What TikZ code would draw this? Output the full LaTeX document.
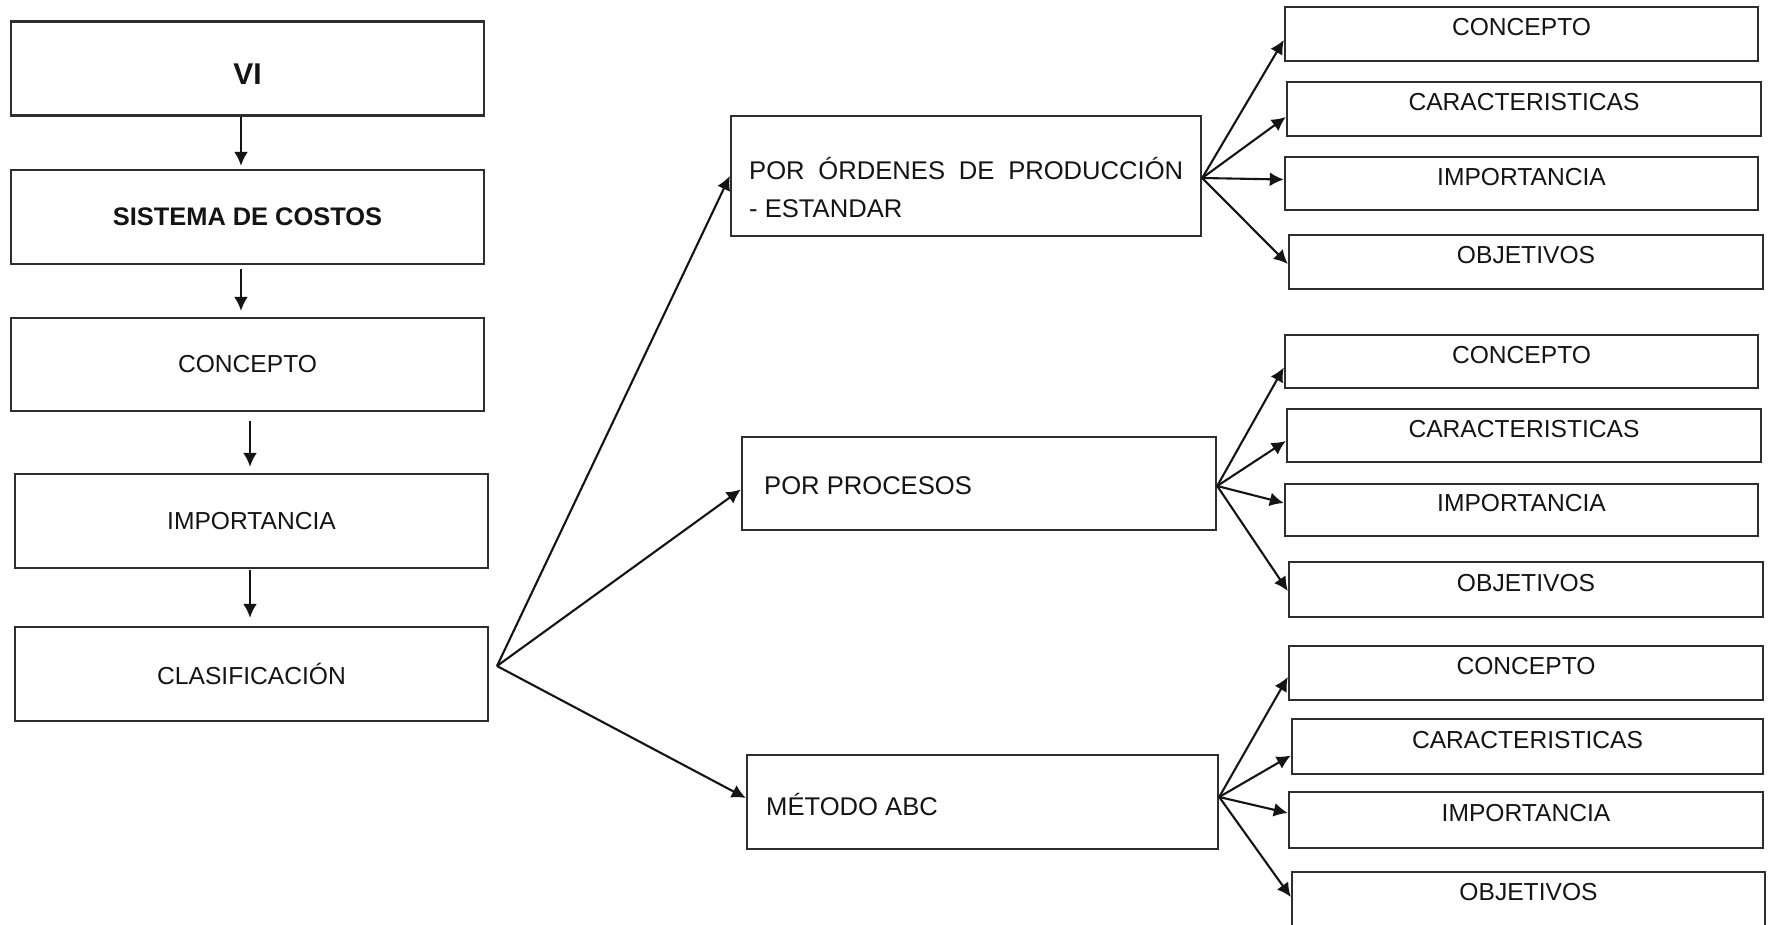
\documentclass[tikz,border=0pt]{standalone}
\usepackage{fontspec}
\setmainfont{Liberation Sans}
\usetikzlibrary{arrows.meta}
\definecolor{linec}{HTML}{2E2E2E}
\definecolor{txt}{HTML}{141414}
\begin{document}
\begin{tikzpicture}[x=1pt,y=-1pt,
  box/.style={draw=linec, line width=2.4pt, rectangle, inner sep=0pt, text=txt, font=\fontsize{24.6}{29}\selectfont},
  lbox/.style={box, minimum width=473pt, minimum height=94pt},
  mbox/.style={box, minimum height=94pt},
  rbox/.style={box, minimum width=473pt, minimum height=54pt, text height=17.5pt, text depth=14pt},
  mtext/.style={anchor=base west, inner sep=0pt, text=txt, font=\fontsize{25.6}{38}\selectfont},
  arr/.style={draw=black!92, line width=2.1pt, -{Latex[length=14pt,width=14pt]}},
]
\clip (0,0) rectangle (1772,924);
\fill[white] (0,0) rectangle (1772,924);

% left column
\node[lbox, font=\bfseries\fontsize{30}{34}\selectfont, text height=31.5pt, text depth=0pt] (vi) at (247.5,68.5) {VI};
\node[lbox, font=\bfseries\fontsize{25.4}{30}\selectfont] (sis) at (247.5,217) {SISTEMA DE COSTOS};
\node[lbox, minimum height=93pt] (con) at (247.5,364.5) {CONCEPTO};
\node[lbox] (imp) at (251.5,521) {IMPORTANCIA};
\node[lbox] (cla) at (251.5,674) {CLASIFICACIÓN};

\draw[arr, shorten >=3pt] ([xshift=-6.5pt]vi.south) -- ([xshift=-6.5pt]sis.north);
\draw[arr, shorten <=4pt, shorten >=6pt] ([xshift=-6.5pt]sis.south) -- ([xshift=-6.5pt]con.north);
\draw[arr, shorten <=9pt, shorten >=6pt] ([xshift=2.5pt]con.south) -- ([xshift=-1.5pt]imp.north);
\draw[arr, shorten <=1pt, shorten >=8pt] ([xshift=-1.5pt]imp.south) -- ([xshift=-1.5pt]cla.north);

% middle column
\node[mbox, minimum width=470pt, minimum height=120pt] (ord) at (966,176) {};
\node[mbox, minimum width=474pt, minimum height=93pt] (pro) at (979,483.5) {};
\node[mbox, minimum width=471pt] (abc) at (982.5,802) {};

\node[mtext] (ordt1) at (749,179) {\hbox to 434pt{POR\hfil ÓRDENES\hfil DE\hfil PRODUCCIÓN}};
\node[mtext] (ordt2) at (749,217) {- ESTANDAR};
\node[mtext] (prot) at (764,494.5) {POR PROCESOS};
\node[mtext] (abct) at (766,815) {MÉTODO ABC};

\coordinate (fan) at (497,666);
\draw[arr] (fan) -- (ord.west);
\draw[arr] (fan) -- ([yshift=-6pt]pro.west);
\draw[arr] (fan) -- ([yshift=4pt]abc.west);

% right column, group 1
\node[rbox] (c1) at (1521.5,34) {CONCEPTO};
\node[rbox, minimum width=474pt] (k1) at (1524,109) {CARACTERISTICAS};
\node[rbox, minimum height=53pt] (i1) at (1521.5,183.5) {IMPORTANCIA};
\node[rbox, minimum width=474pt] (o1) at (1526,262) {OBJETIVOS};

\draw[arr] ([yshift=-2pt]ord.east) -- ([yshift=-6pt]c1.west);
\draw[arr] ([yshift=-2pt]ord.east) -- ([yshift=-8pt]k1.west);
\draw[arr] ([yshift=-2pt]ord.east) -- ([yshift=4pt]i1.west);
\draw[arr] ([yshift=-2pt]ord.east) -- ([yshift=-2pt]o1.west);

% group 2
\node[rbox, minimum height=53pt] (c2) at (1521.5,361.5) {CONCEPTO};
\node[rbox, minimum width=474pt, minimum height=53pt] (k2) at (1524,435.5) {CARACTERISTICAS};
\node[rbox, minimum height=52pt] (i2) at (1521.5,510) {IMPORTANCIA};
\node[rbox, minimum width=474pt, minimum height=55pt] (o2) at (1526,589.5) {OBJETIVOS};

\draw[arr] ([yshift=-2.5pt]pro.east) -- ([yshift=-6pt]c2.west);
\draw[arr] ([yshift=-2.5pt]pro.east) -- ([yshift=-5.5pt]k2.west);
\draw[arr] ([yshift=-2.5pt]pro.east) -- ([yshift=7pt]i2.west);
\draw[arr] ([yshift=-2.5pt]pro.east) -- ([yshift=-1.5pt]o2.west);

% group 3
\node[rbox, minimum width=474pt] (c3) at (1526,673) {CONCEPTO};
\node[rbox, minimum width=471pt, minimum height=55pt] (k3) at (1527.5,746.5) {CARACTERISTICAS};
\node[rbox, minimum width=474pt, minimum height=56pt] (i3) at (1526,820) {IMPORTANCIA};
\node[rbox] (o3) at (1528.5,899) {OBJETIVOS};

\draw[arr] ([yshift=5pt]abc.east) -- ([yshift=-4pt]c3.west);
\draw[arr] ([yshift=5pt]abc.east) -- ([yshift=-9pt]k3.west);
\draw[arr] ([yshift=5pt]abc.east) -- ([yshift=7pt]i3.west);
\draw[arr] ([yshift=5pt]abc.east) -- ([yshift=2pt]o3.west);
\end{tikzpicture}
\end{document}
